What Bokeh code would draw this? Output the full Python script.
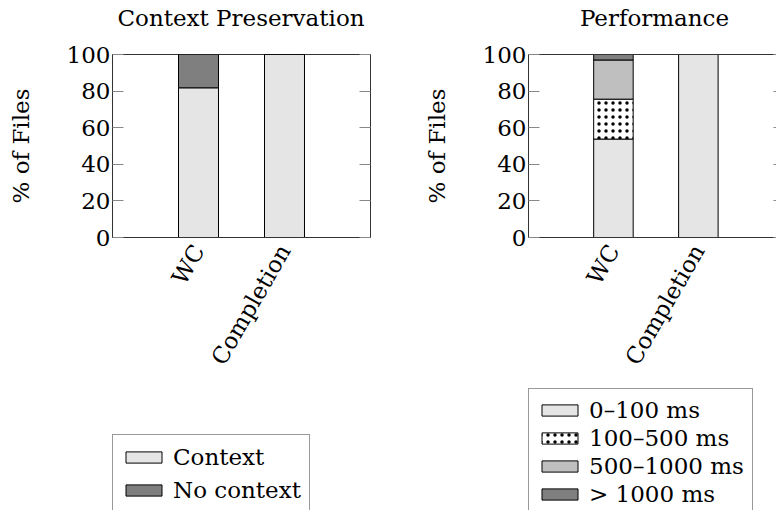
import numpy as np
from bokeh.plotting import figure
from bokeh.layouts import row, column
from bokeh.models import (Range1d, FixedTicker, LinearAxis, Legend, LegendItem, Div)
from bokeh.embed import file_html
from bokeh.resources import INLINE

# ---- data ----
categories = ["WC", "Completion"]
ctx_series = ["Context", "No context"]
ctx_context = [81.8, 100.0]
ctx_nocontext = [18.2, 0.0]

perf_series = ["0\u2013100 ms", "100\u2013500 ms", "500\u20131000 ms", "> 1000 ms"]
perf_0_100 = [53.8, 100.0]
perf_100_500 = [21.8, 0.0]
perf_500_1000 = [21.4, 0.0]
perf_gt_1000 = [3.0, 0.0]
y_ticks = [0, 20, 40, 60, 80, 100]

FONT = "DejaVu Serif"
FS = "23px"
xs = list(range(len(categories)))
BAR_W = 0.465
TITLE_H = 36
FIG_H = 350
TOP = 18
BOTTOM = 149
LEG_H = 510 - FIG_H - TITLE_H


def title_div(text, width, left, right):
    return Div(text=text, width=width, height=TITLE_H, margin=(0, right, 0, left),
               styles={"font-family": FONT, "font-size": FS, "line-height": "36px",
                       "text-align": "center", "color": "black", "white-space": "nowrap"})


def base_fig(width, x_end, min_left, min_right, outline, right_tick):
    p = figure(width=width, height=FIG_H, output_backend="svg", toolbar_location=None,
               x_range=Range1d(-1, x_end), y_range=Range1d(0, 100),
               min_border_left=min_left, min_border_right=min_right,
               min_border_top=TOP, min_border_bottom=BOTTOM)
    p.xgrid.visible = False
    p.ygrid.visible = False
    p.outline_line_color = "#333333" if outline else None
    p.outline_line_width = 1
    p.background_fill_color = "white"
    p.border_fill_color = "white"

    xa = p.xaxis[0]
    xa.ticker = FixedTicker(ticks=xs)
    xa.major_label_overrides = {i: c for i, c in enumerate(categories)}
    xa.major_label_orientation = np.pi / 3
    xa.major_tick_in = 0
    xa.major_tick_out = 0
    xa.minor_tick_in = 0
    xa.minor_tick_out = 0
    xa.major_label_standoff = 9
    xa.axis_line_color = "#333333"
    xa.major_label_text_font = FONT
    xa.major_label_text_font_size = FS
    xa.major_label_text_color = "black"

    ya = p.yaxis[0]
    ya.ticker = FixedTicker(ticks=y_ticks)
    ya.major_tick_in = 11
    ya.major_tick_out = 0
    ya.minor_tick_in = 0
    ya.minor_tick_out = 0
    ya.major_tick_line_color = "#888888"
    ya.axis_line_color = "#333333"
    ya.major_label_standoff = 2
    ya.major_label_text_font = FONT
    ya.major_label_text_font_size = FS
    ya.major_label_text_color = "black"
    ya.axis_label = "% of Files"
    ya.axis_label_text_font = FONT
    ya.axis_label_text_font_size = FS
    ya.axis_label_text_font_style = "normal"
    ya.axis_label_text_color = "black"
    ya.axis_label_standoff = 30

    ra = LinearAxis(ticker=FixedTicker(ticks=y_ticks), major_tick_in=right_tick, major_tick_out=0,
                    minor_tick_in=0, minor_tick_out=0, major_tick_line_color="#888888",
                    axis_line_color="#333333" if outline else None,
                    major_label_text_font_size="0px", major_label_standoff=0,
                    major_label_text_color=None)
    p.add_layout(ra, "right")
    if not outline:
        ta = LinearAxis(ticker=FixedTicker(ticks=[]), major_tick_in=0, major_tick_out=0,
                        minor_tick_in=0, minor_tick_out=0, axis_line_color="#333333",
                        major_label_text_font_size="0px", major_label_standoff=0,
                        major_label_text_color=None)
        p.add_layout(ta, "above")
    return p


def stacked(p, series_vals, colors, hatches):
    bottom = np.zeros(len(xs))
    rs = []
    for vals, col, h in zip(series_vals, colors, hatches):
        vals = np.array(vals, dtype=float)
        top = bottom + vals
        kw = {}
        if h:
            kw = dict(hatch_pattern=h, hatch_color="black", hatch_scale=7, hatch_weight=2.2)
        r = p.vbar(x=xs, bottom=bottom, top=top, width=BAR_W, fill_color=col,
                   line_color="black", line_width=1, **kw)
        rs.append(r)
        bottom = top
    return rs


def legend_fig(width, left, top, series_vals, names, colors, hatches, label_h, spacing):
    q = figure(width=width, height=LEG_H, output_backend="svg", toolbar_location=None,
               x_axis_type=None, y_axis_type=None,
               x_range=Range1d(-1, 2), y_range=Range1d(0, 100),
               min_border_left=left, min_border_right=0,
               min_border_top=top, min_border_bottom=0)
    q.xgrid.visible = False
    q.ygrid.visible = False
    q.outline_line_color = None
    q.background_fill_color = "white"
    q.border_fill_color = "white"
    rs = stacked(q, series_vals, colors, hatches)
    items = []
    for r, name in zip(rs, names):
        r.visible = False
        items.append(LegendItem(label=name, renderers=[r]))
    lg = Legend(items=items, location="top_left", orientation="vertical",
                label_text_font=FONT, label_text_font_size=FS, label_text_color="black",
                glyph_width=45, glyph_height=14, label_height=label_h,
                spacing=spacing, padding=8, margin=0, label_standoff=7,
                border_line_color="#333333", border_line_width=1,
                background_fill_color="white", background_fill_alpha=1.0,
                inactive_fill_color="white", inactive_fill_alpha=0.0)
    q.add_layout(lg)
    return q


ctx_colors = ["#e5e5e5", "#7f7f7f"]
ctx_hatch = [None, None]
perf_colors = ["#e5e5e5", "white", "#bfbfbf", "#7f7f7f"]
perf_hatch = [None, ".", None, None]
ctx_vals = [ctx_context, ctx_nocontext]
perf_vals = [perf_0_100, perf_100_500, perf_500_1000, perf_gt_1000]

ABOVE = TITLE_H + FIG_H

t1 = title_div("Context Preservation", 258, 112, 50)
p1 = base_fig(420, 2.0, 112, 50, True, 11)
stacked(p1, ctx_vals, ctx_colors, ctx_hatch)
l1 = legend_fig(420, 112, 434 - ABOVE, ctx_vals, ctx_series, ctx_colors, ctx_hatch, 27, 6)

t2 = title_div("Performance", 243, 113, 0)
p2 = base_fig(356, 1.92, 105, 0, False, 3)
stacked(p2, perf_vals, perf_colors, perf_hatch)
l2 = legend_fig(356, 107, 388 - ABOVE, perf_vals, perf_series, perf_colors, perf_hatch, 25, 2)

layout = row(column(t1, p1, l1, spacing=0), column(t2, p2, l2, spacing=0), spacing=0)
open("out.html", "w").write(file_html(layout, INLINE))
